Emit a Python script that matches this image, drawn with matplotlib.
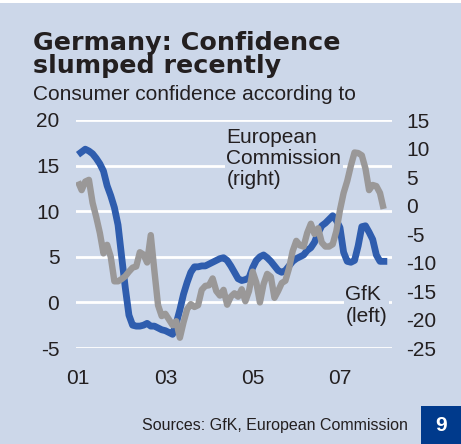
import matplotlib.pyplot as plt
from matplotlib.patches import Rectangle

plt.rcParams['font.family'] = ['Liberation Sans', 'DejaVu Sans']
plt.rcParams['axes.unicode_minus'] = False

# monthly, Jan 2001 .. Feb 2008
gfk = [16.2, 16.5, 16.8, 16.6, 16.3, 15.8, 15.2, 14.4, 12.8, 11.7,
       10.4, 8.5, 5.0, 1.6, -1.4, -2.5, -2.6, -2.6, -2.5, -2.3,
       -2.6, -2.6, -2.8, -3.0, -3.1, -3.3, -3.5, -2.3, -0.8, 0.9,
       2.2, 3.3, 3.9, 3.9, 4.0, 4.0, 4.2, 4.4, 4.6, 4.8,
       4.9, 4.6, 4.0, 3.3, 2.6, 2.4, 2.5, 2.7, 3.8, 4.6,
       5.0, 5.2, 4.9, 4.5, 4.0, 3.5, 3.3, 3.5, 4.0, 4.5,
       4.8, 5.0, 5.2, 5.7, 6.0, 6.6, 7.6, 8.4, 8.7, 9.1,
       9.5, 9.0, 8.2, 5.5, 4.5, 4.4, 4.6, 6.2, 8.3, 8.4,
       7.7, 6.9, 5.2, 4.5, 4.5, 4.5]
# monthly, Jan 2001 .. Jan 2008
ec = [4.2, 2.7, 4.2, 4.5, 0.5, -2.0, -4.8, -8.4, -6.9, -9.0,
      -13.3, -13.3, -12.9, -12.4, -11.6, -10.9, -10.7, -8.2, -8.6, -10.0,
      -5.2, -11.5, -17.5, -19.4, -19.0, -20.0, -21.0, -20.3, -23.2, -20.5,
      -18.2, -17.3, -17.8, -17.5, -14.8, -14.1, -14.0, -12.8, -15.0, -15.8,
      -14.8, -17.4, -16.0, -15.4, -16.0, -14.7, -16.8, -15.0, -11.6, -13.5,
      -17.0, -13.8, -12.0, -12.5, -16.2, -15.0, -13.6, -13.2, -11.0, -8.0,
      -6.2, -7.0, -7.2, -4.8, -3.2, -5.0, -4.0, -6.5, -7.2, -7.2,
      -6.8, -4.5, -0.8, 2.2, 4.3, 7.0, 9.3, 9.2, 8.8, 6.5,
      2.7, 3.6, 3.4, 2.2, -0.6]
x_ticks = [0, 24, 48, 72]
x_labels = ['01', '03', '05', '07']
left_ticks = [20, 15, 10, 5, 0, -5]
right_ticks = [15, 10, 5, 0, -5, -10, -15, -20, -25]

bg = '#CCD7E9'
ink = '#231F20'

fig = plt.figure(figsize=(4.61, 4.44), dpi=100, facecolor=bg)
ax = fig.add_axes([76 / 461, 96 / 444, 316 / 461, 228 / 444])
ax.set_facecolor(bg)
ax.set_xlim(-0.55, 86.3)
ax.set_ylim(-5, 20)
ax.set_yticks(left_ticks)
ax.set_xticks(x_ticks)
ax.set_xticklabels(x_labels)
for y in left_ticks:
    ax.axhline(y, color='white', lw=2, zorder=0)
ax.tick_params(length=0, labelsize=15, colors=ink)
ax.tick_params(axis='y', pad=12)
ax.tick_params(axis='x', pad=15)
for s in ax.spines.values():
    s.set_visible(False)

ax.plot(range(len(gfk)), gfk, color='#2F5DAE', lw=4.9, solid_capstyle='butt', zorder=2)

ax2 = ax.twinx()
ax2.set_ylim(-25, 15)
ax2.set_yticks(right_ticks)
ax2.tick_params(length=0, labelsize=15, colors=ink, pad=10)
for s in ax2.spines.values():
    s.set_visible(False)
ax2.plot(range(len(ec)), ec, color='#9A9898', lw=4.6, solid_capstyle='butt', zorder=2)

box = dict(facecolor=bg, edgecolor='none', pad=1)
ax2.text(40.8, 13.6, 'European\nCommission\n(right)', fontsize=15, color=ink,
         ha='left', va='top', linespacing=1.15, bbox=box, zorder=1)
ax2.text(73.5, -14.0, 'GfK\n(left)', fontsize=15, color=ink,
         ha='left', va='top', linespacing=1.15, bbox=box, zorder=1)

fig.text(33 / 461, 1 - 31 / 444, 'Germany: Confidence\nslumped recently', fontsize=18.3,
         fontweight='bold', family='DejaVu Sans', color=ink, ha='left', va='top',
         linespacing=0.95)
fig.text(33 / 461, 1 - 100 / 444, 'Consumer confidence according to', fontsize=15,
         color=ink, ha='left', va='baseline')
fig.text(408 / 461, 1 - 425 / 444, 'Sources: GfK, European Commission', fontsize=11.5,
         color=ink, ha='right', va='center')

fig.patches.append(Rectangle((421 / 461, 0), 40 / 461, 38 / 444, transform=fig.transFigure,
                             facecolor='#003A8C', edgecolor='none'))
fig.text(441 / 461, 1 - 425 / 444, '9', fontsize=15, fontweight='bold', color='white',
         ha='center', va='center')
fig.patches.append(Rectangle((0, 1 - 3 / 444), 1, 3 / 444, transform=fig.transFigure,
                             facecolor='white', edgecolor='none'))

fig.savefig('out.png', dpi=100, facecolor=bg)
